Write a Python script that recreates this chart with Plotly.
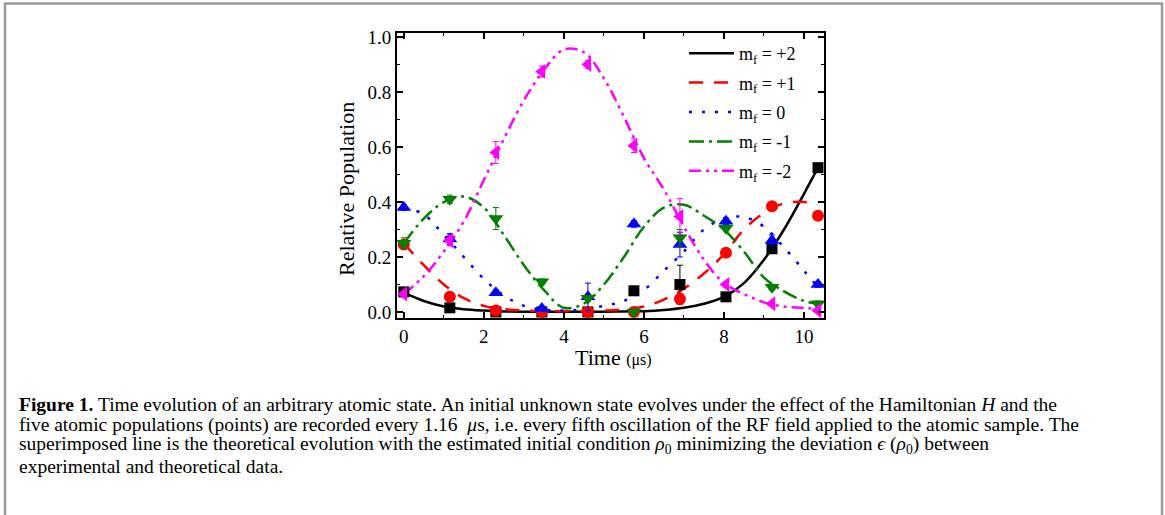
import plotly.graph_objects as go

# ---------------- data ----------------
t_exp = [0.0, 1.15, 2.3, 3.45, 4.6, 5.75, 6.9, 8.05, 9.2, 10.35]

p2_exp = [0.073, 0.015, 0.0, 0.0, 0.0, 0.077, 0.10, 0.055, 0.23, 0.525]
p2_err = [0.01, 0.008, 0.005, 0.005, 0.005, 0.006, 0.07, 0.008, 0.01, 0.01]
p1_exp = [0.245, 0.055, 0.005, 0.0, 0.0, 0.0, 0.047, 0.215, 0.385, 0.35]
p1_err = [0.015, 0.01, 0.008, 0.006, 0.006, 0.006, 0.02, 0.01, 0.01, 0.01]
p0_exp = [0.38, 0.265, 0.07, 0.013, 0.055, 0.32, 0.245, 0.33, 0.26, 0.10]
p0_err = [0.01, 0.02, 0.01, 0.008, 0.05, 0.012, 0.045, 0.012, 0.02, 0.01]
m1_exp = [0.25, 0.41, 0.34, 0.11, 0.05, 0.0, 0.27, 0.305, 0.09, 0.03]
m1_err = [0.02, 0.015, 0.04, 0.01, 0.01, 0.008, 0.03, 0.01, 0.01, 0.01]
m2_exp = [0.065, 0.26, 0.58, 0.875, 0.90, 0.605, 0.347, 0.10, 0.03, 0.005]
m2_err = [0.01, 0.02, 0.04, 0.02, 0.015, 0.025, 0.065, 0.01, 0.008, 0.008]

t_th = [0.0, 0.5, 1.0, 1.5, 2.0, 2.5, 3.0, 3.5, 4.0, 4.5, 5.0, 5.5,
        6.0, 6.5, 7.0, 7.5, 8.0, 8.5, 9.0, 9.5, 10.0, 10.35]
p2_th = [0.07, 0.04, 0.02, 0.01, 0.005, 0.002, 0.001, 0.001, 0.001, 0.001, 0.001, 0.002,
         0.003, 0.007, 0.015, 0.03, 0.055, 0.105, 0.19, 0.30, 0.43, 0.525]
p1_th = [0.25, 0.17, 0.10, 0.05, 0.022, 0.01, 0.005, 0.003, 0.003, 0.003, 0.005, 0.01,
         0.02, 0.045, 0.085, 0.14, 0.21, 0.30, 0.36, 0.395, 0.40, 0.39]
p0_th = [0.38, 0.355, 0.28, 0.20, 0.12, 0.06, 0.022, 0.008, 0.005, 0.01, 0.022, 0.04,
         0.08, 0.15, 0.22, 0.30, 0.34, 0.345, 0.31, 0.235, 0.15, 0.09]
m1_th = [0.25, 0.34, 0.40, 0.42, 0.38, 0.28, 0.17, 0.08, 0.015, 0.03, 0.10, 0.20,
         0.31, 0.38, 0.39, 0.35, 0.30, 0.22, 0.125, 0.075, 0.04, 0.03]
m2_th = [0.065, 0.13, 0.22, 0.33, 0.48, 0.63, 0.77, 0.88, 0.955, 0.945, 0.85, 0.71,
         0.56, 0.445, 0.31, 0.19, 0.105, 0.065, 0.035, 0.02, 0.015, 0.01]

labels = ["m<sub>f</sub> = +2", "m<sub>f</sub> = +1", "m<sub>f</sub> = 0",
          "m<sub>f</sub> = -1", "m<sub>f</sub> = -2"]
colors = ["#000000", "#FF0000", "#0000FF", "#008000", "#FF00FF"]
symbols = ["square", "circle", "triangle-up", "triangle-down", "triangle-left"]
msizes = [11, 12, 13, 13, 13]
dashes = ["solid", "14px,11px", "3px,10px", "15px,5px,3px,5px", "12px,5px,3px,5px,3px,5px"]

x_title = "Time <span style='font-size:16px'>(μs)</span>"
y_title = "Relative Population"
caption_lines = [
    "<b>Figure 1.</b> Time evolution of an arbitrary atomic state. An initial unknown state evolves "
    "under the effect of the Hamiltonian <i>H</i> and the",
    "five atomic populations (points) are recorded every 1.16  <i>μ</i>s, i.e. every fifth oscillation "
    "of the RF field applied to the atomic sample. The",
    "superimposed line is the theoretical evolution with the estimated initial condition "
    "<i>ρ</i><sub>0</sub> minimizing the deviation <i>ϵ</i> (<i>ρ</i><sub>0</sub>) between",
    "experimental and theoretical data.",
]

exp_series = [p2_exp, p1_exp, p0_exp, m1_exp, m2_exp]
err_series = [p2_err, p1_err, p0_err, m1_err, m2_err]
th_series = [p2_th, p1_th, p0_th, m1_th, m2_th]

# ---------------- layout geometry (pixels) ----------------
W, H = 1165, 515
PL, PR, PT, PB = 397, 824, 33, 318


def px_x(px):
    return (px - PL) / (PR - PL)


def px_y(py):
    return (PB - py) / (PB - PT)


FONT = "Liberation Serif"

fig = go.Figure()

for i in range(5):
    fig.add_trace(go.Scatter(
        x=t_th, y=th_series[i], mode="lines", name=labels[i],
        line=dict(color=colors[i], width=2.5, dash=dashes[i], shape="spline", smoothing=1.0),
        legendgroup=f"g{i}", showlegend=True))

for i in range(5):
    fig.add_trace(go.Scatter(
        x=t_exp, y=exp_series[i], mode="markers", showlegend=False,
        marker=dict(color=colors[i], symbol=symbols[i], size=msizes[i], line=dict(width=0)),
        error_y=dict(type="data", array=err_series[i], color=colors[i], thickness=1, width=3)))

axis_common = dict(
    showline=True, linecolor="black", linewidth=2, mirror="allticks",
    ticks="inside", ticklen=6, tickwidth=1.5, tickcolor="black",
    showgrid=False, zeroline=False,
    tickfont=dict(family=FONT, size=19, color="black"),
)

fig.update_xaxes(
    range=[-0.17, 10.5], tickvals=[0, 2, 4, 6, 8, 10],
    minor=dict(ticks="inside", ticklen=3, tickwidth=1.2, tickcolor="black", dtick=1, tick0=0),
    **axis_common)
fig.update_yaxes(
    range=[-0.022, 1.015], dtick=0.2, tick0=0, tickformat=".1f",
    minor=dict(ticks="inside", ticklen=3, tickwidth=1.2, tickcolor="black", dtick=0.1, tick0=0),
    **axis_common)

annotations = [
    dict(text=x_title, xref="paper", yref="paper", x=px_x(613), y=px_y(357),
         xanchor="center", yanchor="middle", showarrow=False,
         font=dict(family=FONT, size=22, color="black")),
    dict(text=y_title, xref="paper", yref="paper", x=px_x(347), y=px_y(189),
         xanchor="center", yanchor="middle", showarrow=False, textangle=-90,
         font=dict(family=FONT, size=22, color="black")),
]
for k, line in enumerate(caption_lines):
    annotations.append(dict(text=line, xref="paper", yref="paper", x=px_x(17), y=px_y(404 + 20.7 * k),
                            xanchor="left", yanchor="middle", align="left", showarrow=False,
                            font=dict(family=FONT, size=19.5, color="black")))

fig.update_layout(
    width=W, height=H,
    margin=dict(l=PL, r=W - PR, t=PT, b=H - PB, autoexpand=False),
    paper_bgcolor="white", plot_bgcolor="white",
    font=dict(family=FONT, color="black"),
    legend=dict(x=px_x(684), y=px_y(35), xanchor="left", yanchor="top",
                bgcolor="rgba(0,0,0,0)", font=dict(family=FONT, size=18, color="black"),
                itemwidth=45, tracegroupgap=3, traceorder="grouped"),
    shapes=[
        dict(type="line", xref="paper", yref="paper", x0=px_x(5), x1=px_x(5), y0=px_y(3), y1=px_y(520),
             line=dict(color="#9a9a9a", width=2.5)),
        dict(type="line", xref="paper", yref="paper", x0=px_x(1162), x1=px_x(1162), y0=px_y(3), y1=px_y(520),
             line=dict(color="#9a9a9a", width=2.5)),
        dict(type="line", xref="paper", yref="paper", x0=px_x(4), x1=px_x(1163), y0=px_y(3.5), y1=px_y(3.5),
             line=dict(color="#9a9a9a", width=2.5)),
    ],
    annotations=annotations,
)

fig.write_html("out.html", config={"displayModeBar": False},
               post_script="document.body.style.margin='0';document.body.style.overflow='hidden';")
